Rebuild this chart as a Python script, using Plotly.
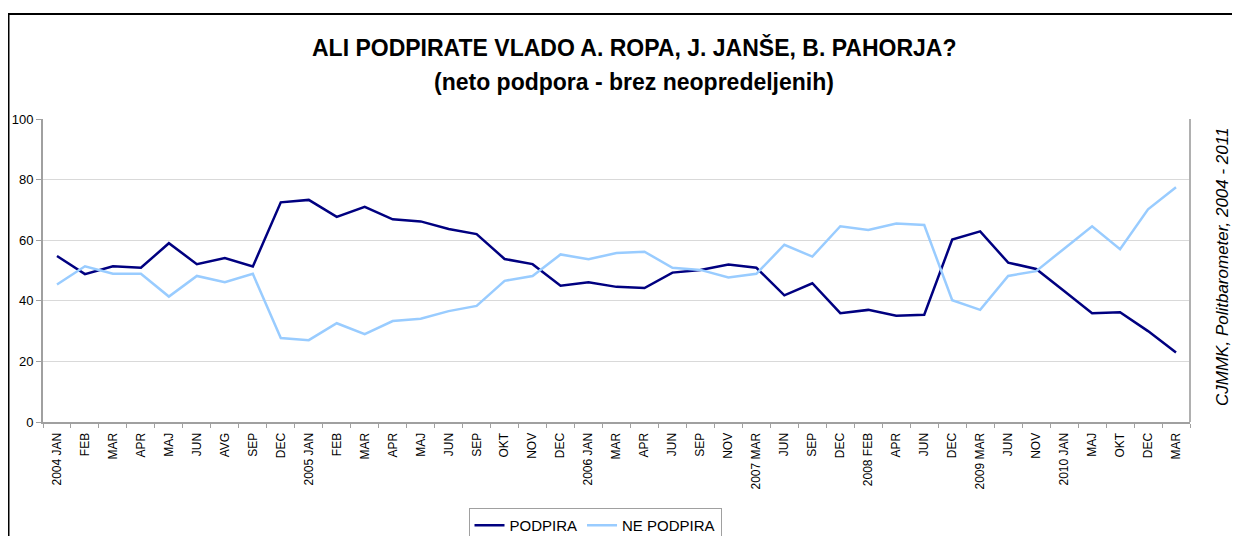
import plotly.graph_objects as go

months = ["2004 JAN", "FEB", "MAR", "APR", "MAJ", "JUN", "AVG", "SEP", "DEC",
          "2005 JAN", "FEB", "MAR", "APR", "MAJ", "JUN", "SEP", "OKT", "NOV", "DEC",
          "2006 JAN", "MAR", "APR", "JUN", "SEP", "NOV",
          "2007 MAR", "JUN", "SEP", "DEC",
          "2008 FEB", "APR", "JUN", "DEC",
          "2009 MAR", "JUN", "NOV",
          "2010 JAN", "MAJ", "OKT", "DEC", "MAR"]

podpira = [54.8, 48.8, 51.4, 50.9, 59.0, 52.1, 54.1, 51.3, 72.5,
           73.3, 67.7, 71.0, 66.9, 66.2, 63.7, 62.0, 53.8, 52.1, 45.0,
           46.1, 44.6, 44.2, 49.3, 50.2, 52.0,
           50.9, 41.8, 45.8, 35.9,
           37.0, 35.1, 35.4, 60.2,
           62.9, 52.6, 50.5,
           43.2, 35.9, 36.2, 30.0, 22.9]

ne_podpira = [45.4, 51.4, 48.9, 48.9, 41.4, 48.2, 46.1, 48.9, 27.7,
              27.0, 32.6, 29.0, 33.3, 34.1, 36.6, 38.3, 46.6, 48.2, 55.3,
              53.7, 55.8, 56.2, 50.9, 50.2, 47.7,
              48.9, 58.5, 54.6, 64.6,
              63.4, 65.5, 65.0, 40.2,
              37.0, 48.2, 49.8,
              57.2, 64.6, 57.0, 70.2, 77.5]

x_idx = list(range(len(months)))
boundaries = [i - 0.5 for i in range(len(months) + 1)]

# plot area geometry (figure pixels)
L, T, W, H = 35, 111, 1147, 303
FW, FH = 1240, 536

fig = go.Figure()
fig.add_trace(go.Scatter(x=x_idx, y=podpira, name="PODPIRA", mode="lines",
                         line=dict(color="#000080", width=2.5)))
fig.add_trace(go.Scatter(x=x_idx, y=ne_podpira, name="NE PODPIRA", mode="lines",
                         line=dict(color="#99CCFF", width=2.5)))

fig.update_layout(
    width=FW, height=FH,
    margin=dict(l=L, r=FW - L - W, t=T, b=FH - T - H, autoexpand=False),
    paper_bgcolor="white", plot_bgcolor="white",
    font=dict(family="Arial, Liberation Sans, sans-serif", color="black", size=12),
    showlegend=True,
    legend=dict(orientation="h", x=(587 - L) / W, xanchor="center",
                y=-(500 - T - H) / H, yanchor="top",
                bordercolor="#a0a0a0", borderwidth=1, font=dict(size=15),
                tracegroupgap=0),
    xaxis=dict(range=[-0.5, len(months) - 0.5], tickmode="array",
               tickvals=x_idx, ticktext=months, tickangle=-90,
               tickfont=dict(size=12), showgrid=False, automargin=False,
               showline=True, linecolor="#a0a0a0", linewidth=2,
               ticks="outside", ticklen=4, tickcolor="rgba(0,0,0,0)",
               minor=dict(tickmode="array", tickvals=boundaries, ticks="outside",
                          ticklen=4, tickcolor="#a0a0a0", showgrid=False),
               zeroline=False),
    yaxis=dict(range=[0, 100], dtick=20, showgrid=True, gridcolor="#d9d9d9",
               showline=True, linecolor="#a0a0a0", linewidth=2, automargin=False,
               ticks="outside", ticklen=5, tickcolor="#a0a0a0",
               tickfont=dict(size=13), zeroline=False),
)

# title lines
fig.add_annotation(text="<b>ALI PODPIRATE VLADO A. ROPA, J. JANŠE, B. PAHORJA?</b>",
                   xref="paper", yref="paper", x=(626 - L) / W, y=1 + (T - 39) / H,
                   xanchor="center", yanchor="middle", showarrow=False,
                   font=dict(size=23))
fig.add_annotation(text="<b>(neto podpora - brez neopredeljenih)</b>",
                   xref="paper", yref="paper", x=(626 - L) / W, y=1 + (T - 74) / H,
                   xanchor="center", yanchor="middle", showarrow=False,
                   font=dict(size=23))

# plot-area right border
fig.add_shape(type="line", xref="paper", yref="paper", x0=1, x1=1, y0=0, y1=1,
              line=dict(color="#b0b0b0", width=2))

# outer chart border (top and left)
fig.add_shape(type="rect", xref="paper", yref="paper",
              x0=-(L - 0.5) / W, x1=1.2, y0=-0.5, y1=1 + (T - 6) / H,
              line=dict(color="black", width=2), layer="below")

fig.add_annotation(text="<i>CJMMK, Politbarometer, 2004 - 2011</i>",
                   xref="paper", yref="paper", x=(1214 - L) / W, y=1 - (259 - T) / H,
                   xanchor="center", yanchor="middle", textangle=-90,
                   showarrow=False, font=dict(size=17))

fig.write_html("out.html")
